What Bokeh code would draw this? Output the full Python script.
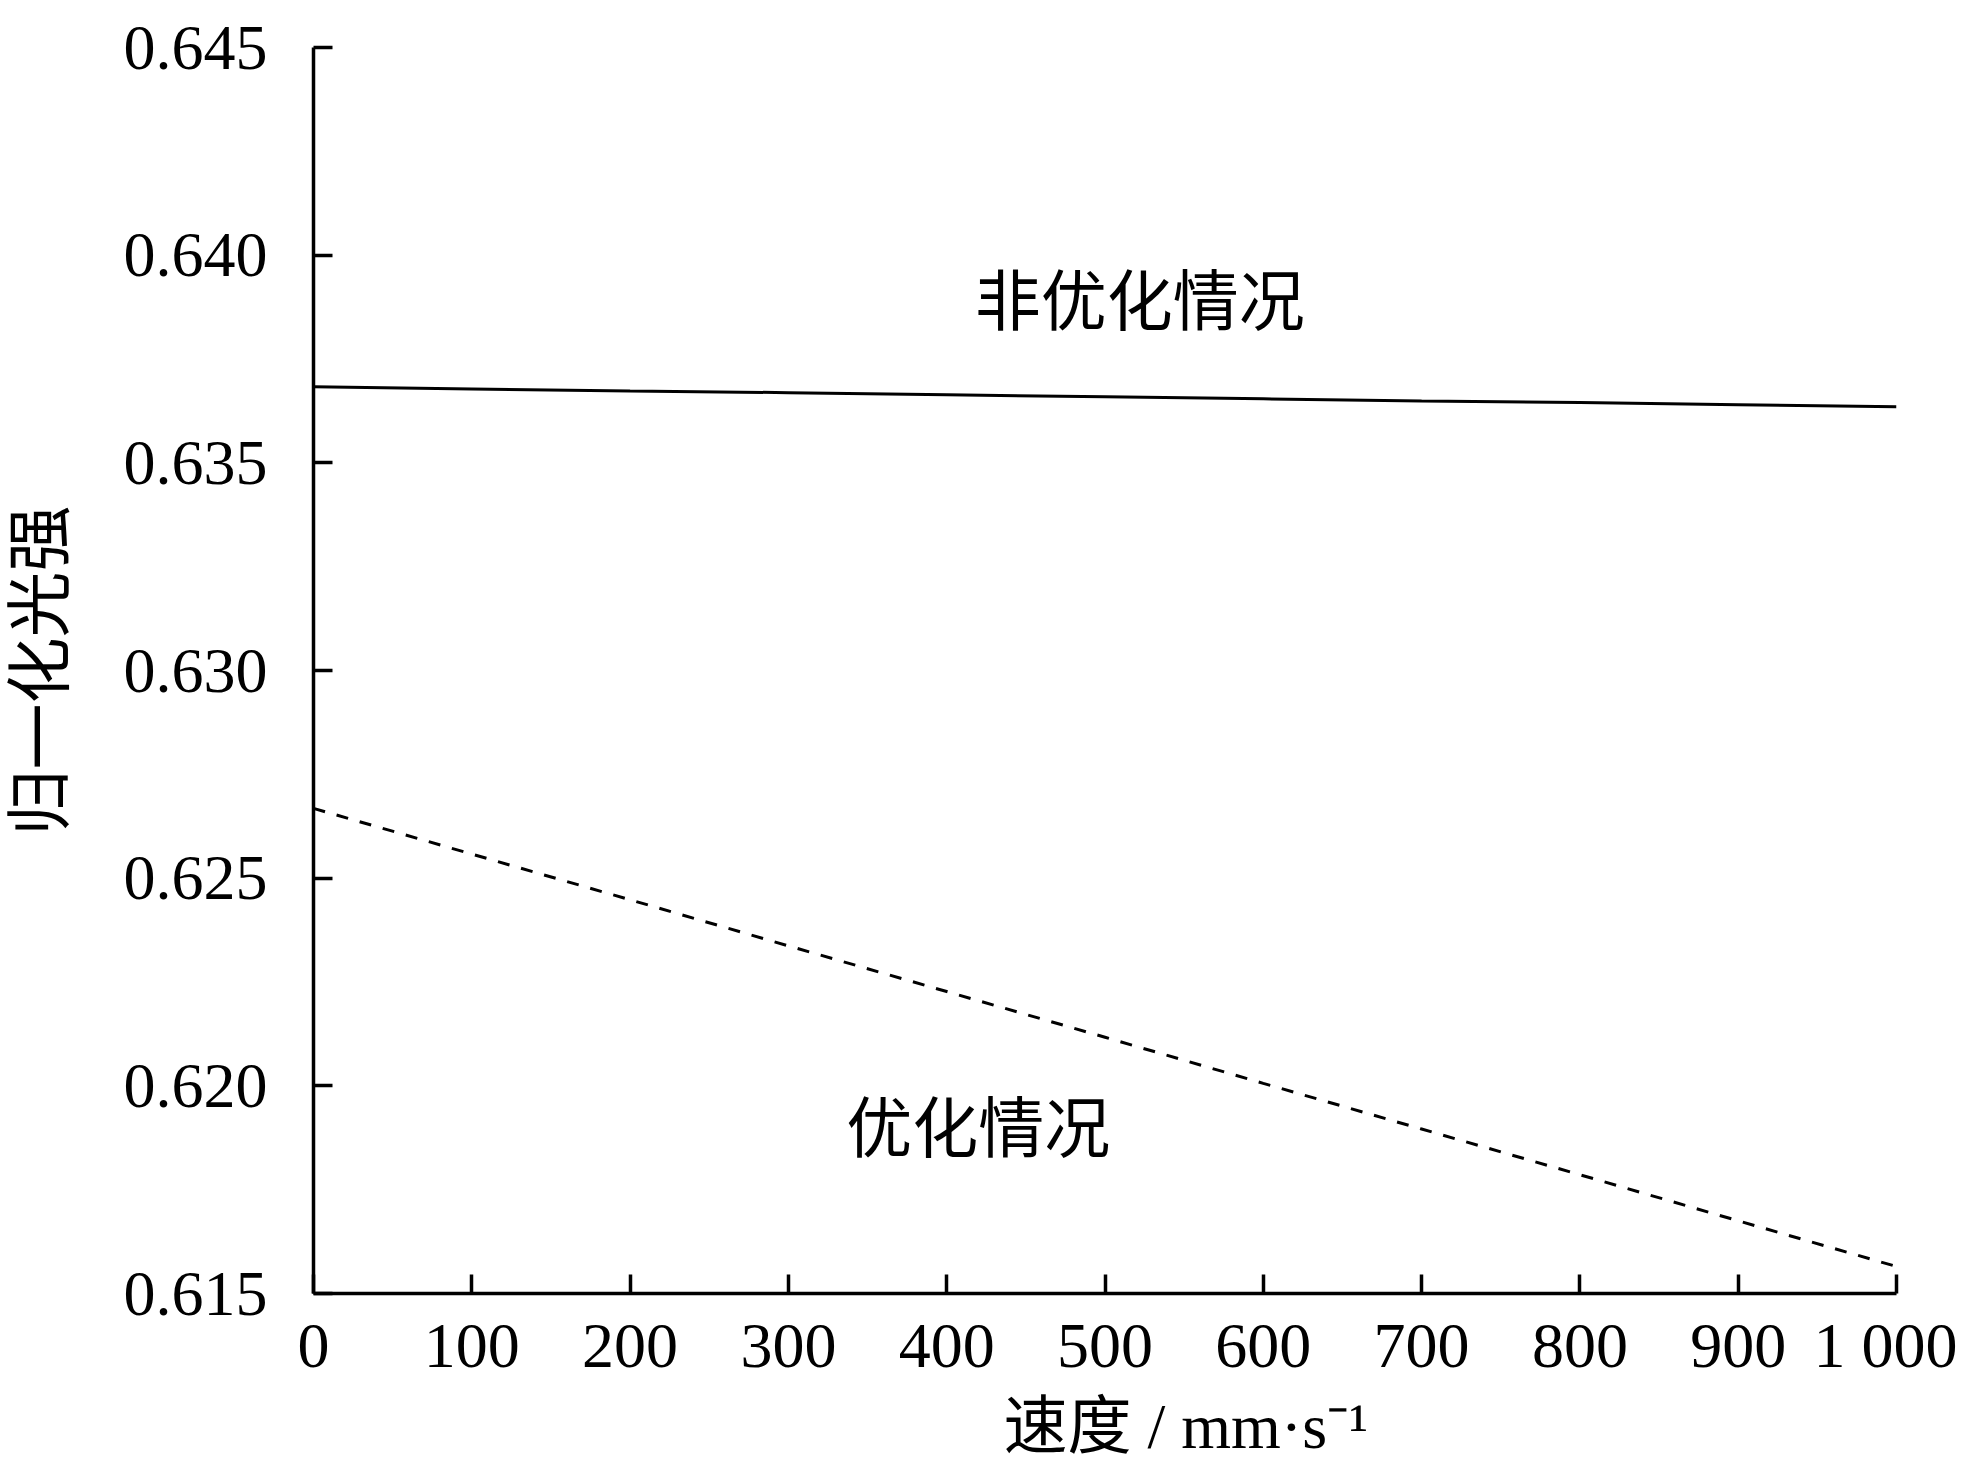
from bokeh.plotting import figure
from bokeh.models import Range1d, FixedTicker, Label, NumeralTickFormatter, Title
from bokeh.embed import file_html
from bokeh.resources import INLINE

# data
speed = [0, 100, 200, 300, 400, 500, 600, 700, 800, 900, 1000]
non_optimized = [0.63683, 0.63678, 0.63673, 0.63669, 0.63664, 0.63659,
                 0.63654, 0.63649, 0.63645, 0.63640, 0.63635]
optimized = [0.62668, 0.62558, 0.62448, 0.62337, 0.62227, 0.62117,
             0.62006, 0.61896, 0.61786, 0.61675, 0.61565]
x_ticks = [0, 100, 200, 300, 400, 500, 600, 700, 800, 900, 1000]
y_ticks = [0.615, 0.620, 0.625, 0.630, 0.635, 0.640, 0.645]
x_tick_overrides = {1000: "1 000"}

label_non = "非优化情况"
label_opt = "优化情况"
label_non_pos = (522, 0.63885)
label_opt_pos = (420, 0.61894)

x_title = "速度 / mm·s⁻¹"
y_title = "归一化光强"

FONT = "'Liberation Serif', 'Noto Sans CJK SC'"

p = figure(width=1957, height=1467, output_backend="svg", toolbar_location=None,
           x_range=Range1d(0, 1000), y_range=Range1d(0.615, 0.645),
           min_border_left=312, min_border_right=61, min_border_top=47, min_border_bottom=172)
p.outline_line_color = None
p.grid.visible = False
p.background_fill_color = "white"
p.border_fill_color = "white"

p.line(speed, non_optimized, line_color="black", line_width=3)
p.line(speed, optimized, line_color="black", line_width=3, line_dash="12 12")

for ax in (p.xaxis[0], p.yaxis[0]):
    ax.axis_line_color = "black"
    ax.axis_line_width = 3.5
    ax.major_tick_line_color = "black"
    ax.major_tick_line_width = 3.5
    ax.major_tick_in = 19
    ax.major_tick_out = 0
    ax.minor_tick_line_color = None
    ax.major_label_text_font = FONT
    ax.major_label_text_font_size = "64px"
    ax.major_label_text_color = "black"
    ax.axis_label_text_font = FONT
    ax.axis_label_text_font_style = "normal"
    ax.axis_label_text_color = "black"

p.xaxis[0].ticker = FixedTicker(ticks=x_ticks)
p.xaxis[0].major_label_overrides = x_tick_overrides
p.xaxis[0].major_label_standoff = 16

p.yaxis[0].ticker = FixedTicker(ticks=y_ticks)
p.yaxis[0].formatter = NumeralTickFormatter(format="0.000")
p.yaxis[0].major_label_standoff = 46
p.yaxis[0].axis_label = y_title
p.yaxis[0].axis_label_text_font_size = "66px"
p.yaxis[0].axis_label_standoff = 44

for txt, (lx, ly) in ((label_non, label_non_pos), (label_opt, label_opt_pos)):
    p.add_layout(Label(x=lx, y=ly, text=txt, text_font=FONT, text_font_size="66px",
                       text_align="center", text_baseline="middle", text_color="black"))

xt = Title(text=x_title, align="left", offset=690, standoff=11, text_font=FONT,
           text_font_size="64px", text_font_style="normal", text_color="black")
p.add_layout(xt, "below")

open("out.html", "w").write(file_html(p, INLINE))
